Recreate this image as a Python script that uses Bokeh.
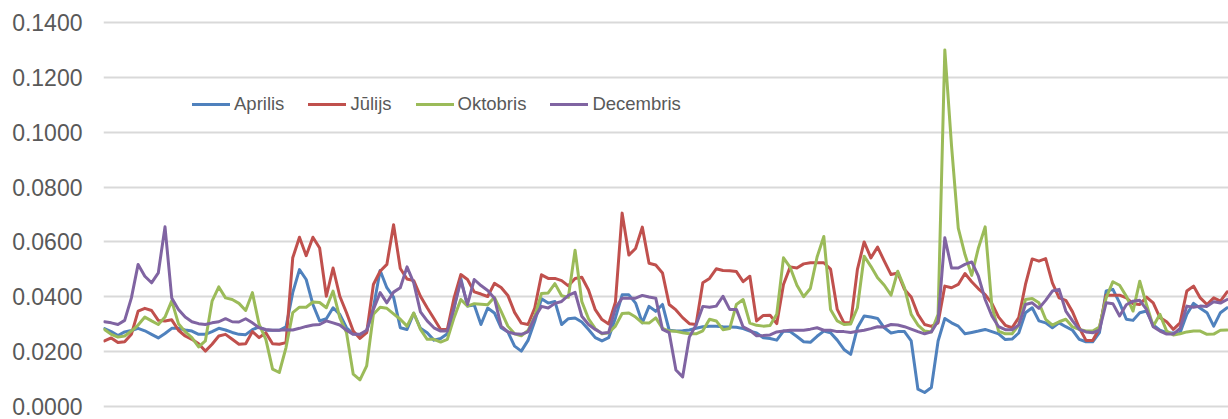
from bokeh.plotting import figure
from bokeh.models import Range1d, FixedTicker, NumeralTickFormatter, Legend, LegendItem
from bokeh.embed import file_html
from bokeh.resources import INLINE

series_names = ["Aprilis", "Jūlijs", "Oktobris", "Decembris"]
series_colors = ["#4F81BD", "#C0504D", "#9BBB59", "#8064A2"]

aprilis = [
    0.0284, 0.0273, 0.0259, 0.0272, 0.0277, 0.0285, 0.0276, 0.0263, 0.0250, 0.0266, 0.0285, 0.0285, 0.0279, 0.0275,
    0.0263, 0.0263, 0.0273, 0.0285, 0.0279, 0.0270, 0.0263, 0.0262, 0.0280, 0.0290, 0.0278, 0.0278, 0.0278, 0.0290,
    0.0415, 0.0499, 0.0463, 0.0372, 0.0312, 0.0320, 0.0360, 0.0336, 0.0287, 0.0265, 0.0262, 0.0273, 0.0360, 0.0496,
    0.0433, 0.0399, 0.0287, 0.0281, 0.0340, 0.0285, 0.0269, 0.0242, 0.0248, 0.0265, 0.0360, 0.0467, 0.0366, 0.0370,
    0.0299, 0.0359, 0.0341, 0.0287, 0.0272, 0.0220, 0.0202, 0.0241, 0.0311, 0.0393, 0.0377, 0.0383, 0.0299, 0.0320,
    0.0323, 0.0308, 0.0281, 0.0251, 0.0239, 0.0251, 0.0323, 0.0407, 0.0407, 0.0377, 0.0305, 0.0365, 0.0347,
    0.0372, 0.0278, 0.0275, 0.0276, 0.0279, 0.0285, 0.0291, 0.0293, 0.0293, 0.0291, 0.0290, 0.0289, 0.0284, 0.0275,
    0.0268, 0.0251, 0.0248, 0.0242, 0.0275, 0.0273, 0.0255, 0.0236, 0.0234, 0.0256, 0.0275, 0.0269, 0.0242, 0.0208,
    0.0190, 0.0287, 0.0330, 0.0326, 0.0321, 0.0287, 0.0268, 0.0273, 0.0273, 0.0239, 0.0063, 0.0051, 0.0069, 0.0239,
    0.0321, 0.0305, 0.0293, 0.0265, 0.0270, 0.0275, 0.0281, 0.0273, 0.0265, 0.0244, 0.0246, 0.0268, 0.0342, 0.0360, 0.0312,
    0.0305, 0.0287, 0.0305, 0.0291, 0.0278, 0.0245, 0.0236, 0.0236, 0.0269, 0.0421, 0.0427, 0.0378, 0.0318, 0.0314,
    0.0342, 0.0348, 0.0297, 0.0278, 0.0269, 0.0268, 0.0269, 0.0336, 0.0376, 0.0358, 0.0342, 0.0293, 0.0342, 0.0360,
]

julijs = [
    0.0239, 0.0250, 0.0233, 0.0236, 0.0263, 0.0348, 0.0358, 0.0350, 0.0314, 0.0312, 0.0316, 0.0278, 0.0257, 0.0245,
    0.0229, 0.0202, 0.0227, 0.0257, 0.0263, 0.0245, 0.0227, 0.0229, 0.0273, 0.0251, 0.0269, 0.0229, 0.0227, 0.0233,
    0.0542, 0.0617, 0.0550, 0.0617, 0.0578, 0.0402, 0.0505, 0.0402, 0.0342, 0.0275, 0.0248, 0.0269, 0.0445, 0.0493,
    0.0518, 0.0663, 0.0503, 0.0465, 0.0459, 0.0402, 0.0360, 0.0321, 0.0281, 0.0281, 0.0396, 0.0481, 0.0463, 0.0418,
    0.0410, 0.0401, 0.0449, 0.0434, 0.0405, 0.0343, 0.0304, 0.0299, 0.0359, 0.0480, 0.0467, 0.0467, 0.0459, 0.0440,
    0.0467, 0.0471, 0.0425, 0.0353, 0.0317, 0.0301, 0.0380, 0.0705, 0.0552, 0.0576, 0.0654, 0.0522, 0.0516,
    0.0487, 0.0372, 0.0352, 0.0324, 0.0302, 0.0299, 0.0451, 0.0467, 0.0502, 0.0496, 0.0495, 0.0492, 0.0455, 0.0475,
    0.0312, 0.0332, 0.0333, 0.0302, 0.0445, 0.0509, 0.0505, 0.0520, 0.0524, 0.0524, 0.0524, 0.0501, 0.0354, 0.0305,
    0.0305, 0.0500, 0.0600, 0.0542, 0.0581, 0.0530, 0.0481, 0.0487, 0.0427, 0.0399, 0.0336, 0.0299, 0.0292, 0.0305,
    0.0439, 0.0433, 0.0445, 0.0485, 0.0455, 0.0429, 0.0408, 0.0376, 0.0326, 0.0296, 0.0287, 0.0324, 0.0445, 0.0538, 0.0530,
    0.0539, 0.0451, 0.0396, 0.0387, 0.0345, 0.0287, 0.0241, 0.0241, 0.0285, 0.0406, 0.0406, 0.0406, 0.0396, 0.0375,
    0.0372, 0.0399, 0.0378, 0.0324, 0.0309, 0.0281, 0.0305, 0.0421, 0.0439, 0.0396, 0.0372, 0.0396, 0.0384, 0.0418,
]

oktobris = [
    0.0281, 0.0263, 0.0253, 0.0257, 0.0275, 0.0297, 0.0326, 0.0312, 0.0299, 0.0326, 0.0385, 0.0302, 0.0273, 0.0251,
    0.0217, 0.0239, 0.0384, 0.0436, 0.0396, 0.0390, 0.0376, 0.0350, 0.0415, 0.0299, 0.0245, 0.0136, 0.0124, 0.0215,
    0.0342, 0.0362, 0.0362, 0.0381, 0.0379, 0.0360, 0.0421, 0.0324, 0.0269, 0.0118, 0.0097, 0.0148, 0.0336, 0.0362,
    0.0358, 0.0338, 0.0318, 0.0293, 0.0341, 0.0281, 0.0245, 0.0245, 0.0235, 0.0245, 0.0324, 0.0390, 0.0366, 0.0375,
    0.0373, 0.0371, 0.0398, 0.0347, 0.0293, 0.0265, 0.0258, 0.0277, 0.0329, 0.0412, 0.0414, 0.0448, 0.0404, 0.0398,
    0.0570, 0.0383, 0.0320, 0.0284, 0.0265, 0.0269, 0.0293, 0.0339, 0.0341, 0.0326, 0.0305, 0.0304, 0.0323,
    0.0285, 0.0275, 0.0274, 0.0269, 0.0265, 0.0265, 0.0276, 0.0318, 0.0312, 0.0280, 0.0284, 0.0372, 0.0390, 0.0304,
    0.0296, 0.0293, 0.0295, 0.0336, 0.0542, 0.0507, 0.0442, 0.0400, 0.0430, 0.0545, 0.0620, 0.0354, 0.0312, 0.0299,
    0.0301, 0.0360, 0.0548, 0.0511, 0.0469, 0.0442, 0.0406, 0.0493, 0.0433, 0.0336, 0.0297, 0.0275, 0.0272, 0.0336,
    0.1300, 0.0950, 0.0650, 0.0554, 0.0478, 0.0578, 0.0655, 0.0366, 0.0275, 0.0265, 0.0265, 0.0297, 0.0390, 0.0394, 0.0378,
    0.0318, 0.0297, 0.0309, 0.0318, 0.0290, 0.0281, 0.0275, 0.0275, 0.0290, 0.0396, 0.0455, 0.0442, 0.0402, 0.0348,
    0.0457, 0.0372, 0.0293, 0.0336, 0.0275, 0.0261, 0.0265, 0.0272, 0.0275, 0.0275, 0.0263, 0.0264, 0.0278, 0.0279,
]

decembris = [
    0.0309, 0.0305, 0.0299, 0.0314, 0.0396, 0.0518, 0.0475, 0.0451, 0.0487, 0.0655, 0.0396, 0.0354, 0.0326, 0.0309,
    0.0302, 0.0299, 0.0305, 0.0309, 0.0320, 0.0309, 0.0308, 0.0320, 0.0305, 0.0287, 0.0281, 0.0278, 0.0278, 0.0280,
    0.0279, 0.0285, 0.0292, 0.0297, 0.0299, 0.0312, 0.0305, 0.0297, 0.0278, 0.0263, 0.0263, 0.0278, 0.0354, 0.0415,
    0.0378, 0.0417, 0.0433, 0.0509, 0.0451, 0.0345, 0.0312, 0.0287, 0.0275, 0.0275, 0.0360, 0.0459, 0.0372, 0.0463,
    0.0441, 0.0423, 0.0395, 0.0293, 0.0272, 0.0265, 0.0263, 0.0272, 0.0325, 0.0365, 0.0359, 0.0376, 0.0383, 0.0405,
    0.0416, 0.0329, 0.0299, 0.0281, 0.0267, 0.0270, 0.0359, 0.0395, 0.0395, 0.0395, 0.0405, 0.0399, 0.0395,
    0.0281, 0.0269, 0.0133, 0.0108, 0.0253, 0.0297, 0.0365, 0.0362, 0.0366, 0.0402, 0.0354, 0.0354, 0.0290, 0.0278,
    0.0258, 0.0259, 0.0261, 0.0272, 0.0275, 0.0278, 0.0278, 0.0278, 0.0282, 0.0287, 0.0278, 0.0278, 0.0273, 0.0273,
    0.0270, 0.0274, 0.0278, 0.0284, 0.0291, 0.0290, 0.0299, 0.0297, 0.0291, 0.0282, 0.0273, 0.0265, 0.0272, 0.0312,
    0.0615, 0.0505, 0.0505, 0.0518, 0.0527, 0.0475, 0.0390, 0.0330, 0.0291, 0.0280, 0.0280, 0.0297, 0.0372, 0.0378, 0.0358,
    0.0387, 0.0421, 0.0427, 0.0348, 0.0312, 0.0281, 0.0272, 0.0269, 0.0278, 0.0378, 0.0375, 0.0330, 0.0371, 0.0384,
    0.0387, 0.0354, 0.0291, 0.0275, 0.0264, 0.0264, 0.0285, 0.0366, 0.0362, 0.0366, 0.0365, 0.0382, 0.0377, 0.0390,
]

y_ticks = [0.0, 0.02, 0.04, 0.06, 0.08, 0.10, 0.12, 0.14]

n = len(aprilis)
xs = list(range(n))

p = figure(
    width=1228, height=419,
    output_backend="svg", toolbar_location=None,
    x_range=Range1d(-0.15, n - 1 + 0.2),
    y_range=Range1d(-0.000729, 0.140729),
    min_border_left=103, min_border_right=0, min_border_top=20, min_border_bottom=11,
)
p.outline_line_color = None
p.background_fill_color = "white"
p.border_fill_color = "white"

p.xaxis.visible = False
p.xgrid.visible = False

p.yaxis.ticker = FixedTicker(ticks=y_ticks)
p.yaxis.formatter = NumeralTickFormatter(format="0.0000")
p.yaxis.axis_line_color = None
p.yaxis.major_tick_line_color = None
p.yaxis.minor_tick_line_color = None
p.yaxis.major_tick_out = 0
p.yaxis.major_tick_in = 0
p.yaxis.major_label_standoff = 21
p.yaxis.major_label_text_font = "Liberation Sans"
p.yaxis.major_label_text_font_size = "23px"
p.yaxis.major_label_text_color = "#595959"

p.ygrid.ticker = FixedTicker(ticks=y_ticks)
p.ygrid.grid_line_color = "#D9D9D9"
p.ygrid.grid_line_width = 2

renderers = []
for vals, col in zip([aprilis, julijs, oktobris, decembris], series_colors):
    r = p.line(xs, vals, line_color=col, line_width=3, line_join="round", line_cap="round")
    renderers.append(r)

legend = Legend(
    items=[LegendItem(label=nm, renderers=[r]) for nm, r in zip(series_names, renderers)],
    orientation="horizontal",
    location=(89, 293),
    glyph_width=38, glyph_height=20,
    label_standoff=4, spacing=24,
    padding=0, margin=0,
    border_line_color=None, background_fill_alpha=0,
    label_text_font="Liberation Sans",
    label_text_font_size="18.5px",
    label_text_color="#595959",
)
p.add_layout(legend, "center")

open("out.html", "w").write(file_html(p, INLINE))
